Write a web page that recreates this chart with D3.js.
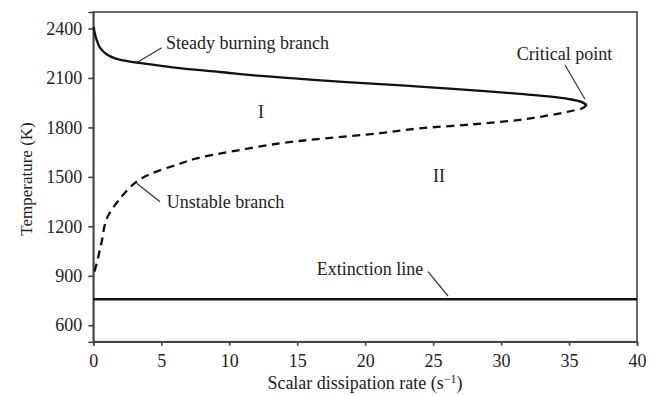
<!DOCTYPE html>
<html>
<head>
<meta charset="utf-8">
<script src="https://cdn.jsdelivr.net/npm/d3@7/dist/d3.min.js"></script>
<style>
  html, body { margin: 0; padding: 0; background: #fff; }
  svg { display: block; }
  text { font-family: "Liberation Serif", "DejaVu Serif", serif; fill: #222; }
</style>
</head>
<body>
<svg id="chart" width="655" height="395"></svg>
<script>
// ---- data ----
const xTicks = [0, 5, 10, 15, 20, 25, 30, 35, 40];
const yTicks = [600, 900, 1200, 1500, 1800, 2100, 2400];
// steady burning branch (x: scalar dissipation rate, T: temperature)
const steadyX = [0.03, 0.1, 0.25, 0.5, 1.0, 1.6, 2.5, 3.5, 5.0, 6.5, 9.3, 12.3, 16.2, 21.1, 24, 28, 31.4, 33.5, 35.0, 35.9, 36.3];
const steadyT = [2410, 2375, 2330, 2282, 2242, 2219, 2202, 2190, 2173, 2158, 2136, 2112, 2088, 2063, 2047, 2025, 2003, 1988, 1972, 1955, 1936];
// unstable branch
const unstableX = [36.3, 36.0, 35.4, 34.7, 33.0, 31.4, 28, 24, 21.1, 17, 13.7, 10.05, 7.6, 6.2, 4.3, 3.1, 2.0, 1.0, 0.6, 0.25, 0.08];
const unstableT = [1936, 1917, 1904, 1891, 1866, 1846, 1819, 1794, 1765, 1733, 1703, 1652, 1612, 1575, 1521, 1465, 1372, 1248, 1100, 975, 925];
// extinction line
const extinctionX = [0, 40];
const extinctionT = [757, 757];

const svg = d3.select("#chart");
const x = d3.scaleLinear().domain([0, 40]).range([93.3, 637]);
const y = d3.scaleLinear().domain([500, 2500]).range([341.7, 12]);
const axisColor = "#444";

// frame
svg.append("rect")
  .attr("x", x(0)).attr("y", y(2500))
  .attr("width", x(40) - x(0)).attr("height", y(500) - y(2500))
  .attr("fill", "none").attr("stroke", axisColor).attr("stroke-width", 1.6);

// axes
const xAxis = svg.append("g").attr("transform", `translate(0,${y(500)})`)
  .call(d3.axisBottom(x).tickValues(xTicks).tickSize(4).tickPadding(9).tickFormat(d3.format("d")));
const yAxis = svg.append("g").attr("transform", `translate(${x(0)},0)`)
  .call(d3.axisLeft(y).tickValues(yTicks).tickSize(5).tickPadding(6).tickFormat(d3.format("d")));
[xAxis, yAxis].forEach(g => {
  g.select(".domain").attr("stroke", axisColor).attr("stroke-width", 1.6);
  g.selectAll(".tick line").attr("stroke", axisColor).attr("stroke-width", 1.6);
  g.selectAll(".tick text").attr("font-family", "Liberation Serif").attr("font-size", 18).attr("fill", "#222");
});

// axis titles
const xt = svg.append("text").attr("x", 365).attr("y", 389).attr("text-anchor", "middle").attr("font-size", 18);
xt.append("tspan").text("Scalar dissipation rate (s");
xt.append("tspan").attr("dy", -6).attr("font-size", 12).text("−1");
xt.append("tspan").attr("dy", 6).text(")");
svg.append("text").attr("transform", "translate(32,179) rotate(-90)")
  .attr("text-anchor", "middle").attr("font-size", 17).text("Temperature (K)");

// curves
const line = d3.line().x(d => x(d[0])).y(d => y(d[1])).curve(d3.curveCatmullRom.alpha(0.5));
svg.append("path").datum(steadyX.map((v, i) => [v, steadyT[i]]))
  .attr("d", line).attr("fill", "none").attr("stroke", "#111").attr("stroke-width", 2.3);
svg.append("path").datum(unstableX.map((v, i) => [v, unstableT[i]]))
  .attr("d", line).attr("fill", "none").attr("stroke", "#111").attr("stroke-width", 2.3)
  .attr("stroke-dasharray", "8,5.5");
svg.append("path").datum(extinctionX.map((v, i) => [v, extinctionT[i]]))
  .attr("d", d3.line().x(d => x(d[0])).y(d => y(d[1])))
  .attr("fill", "none").attr("stroke", "#111").attr("stroke-width", 2.5);

// annotations
const ann = [
  { text: "Steady burning branch", tx: 166, ty: 49, l: [161.7, 47.7, 138.3, 61.7] },
  { text: "Unstable branch", tx: 166.7, ty: 208, l: [160, 201.7, 136.7, 183.3] },
  { text: "Critical point", tx: 516.7, ty: 60, l: [565, 65, 585, 99.3] },
  { text: "Extinction line", tx: 316.7, ty: 275, l: [428, 271.7, 448, 296] }
];
ann.forEach(a => {
  svg.append("text").attr("x", a.tx).attr("y", a.ty).attr("font-size", 18).text(a.text);
  svg.append("line").attr("x1", a.l[0]).attr("y1", a.l[1]).attr("x2", a.l[2]).attr("y2", a.l[3])
    .attr("stroke", "#333").attr("stroke-width", 1.2);
});
svg.append("text").attr("x", 261).attr("y", 118).attr("text-anchor", "middle").attr("font-size", 18).text("I");
svg.append("text").attr("x", 439).attr("y", 182).attr("text-anchor", "middle").attr("font-size", 18).text("II");
</script>
</body>
</html>
